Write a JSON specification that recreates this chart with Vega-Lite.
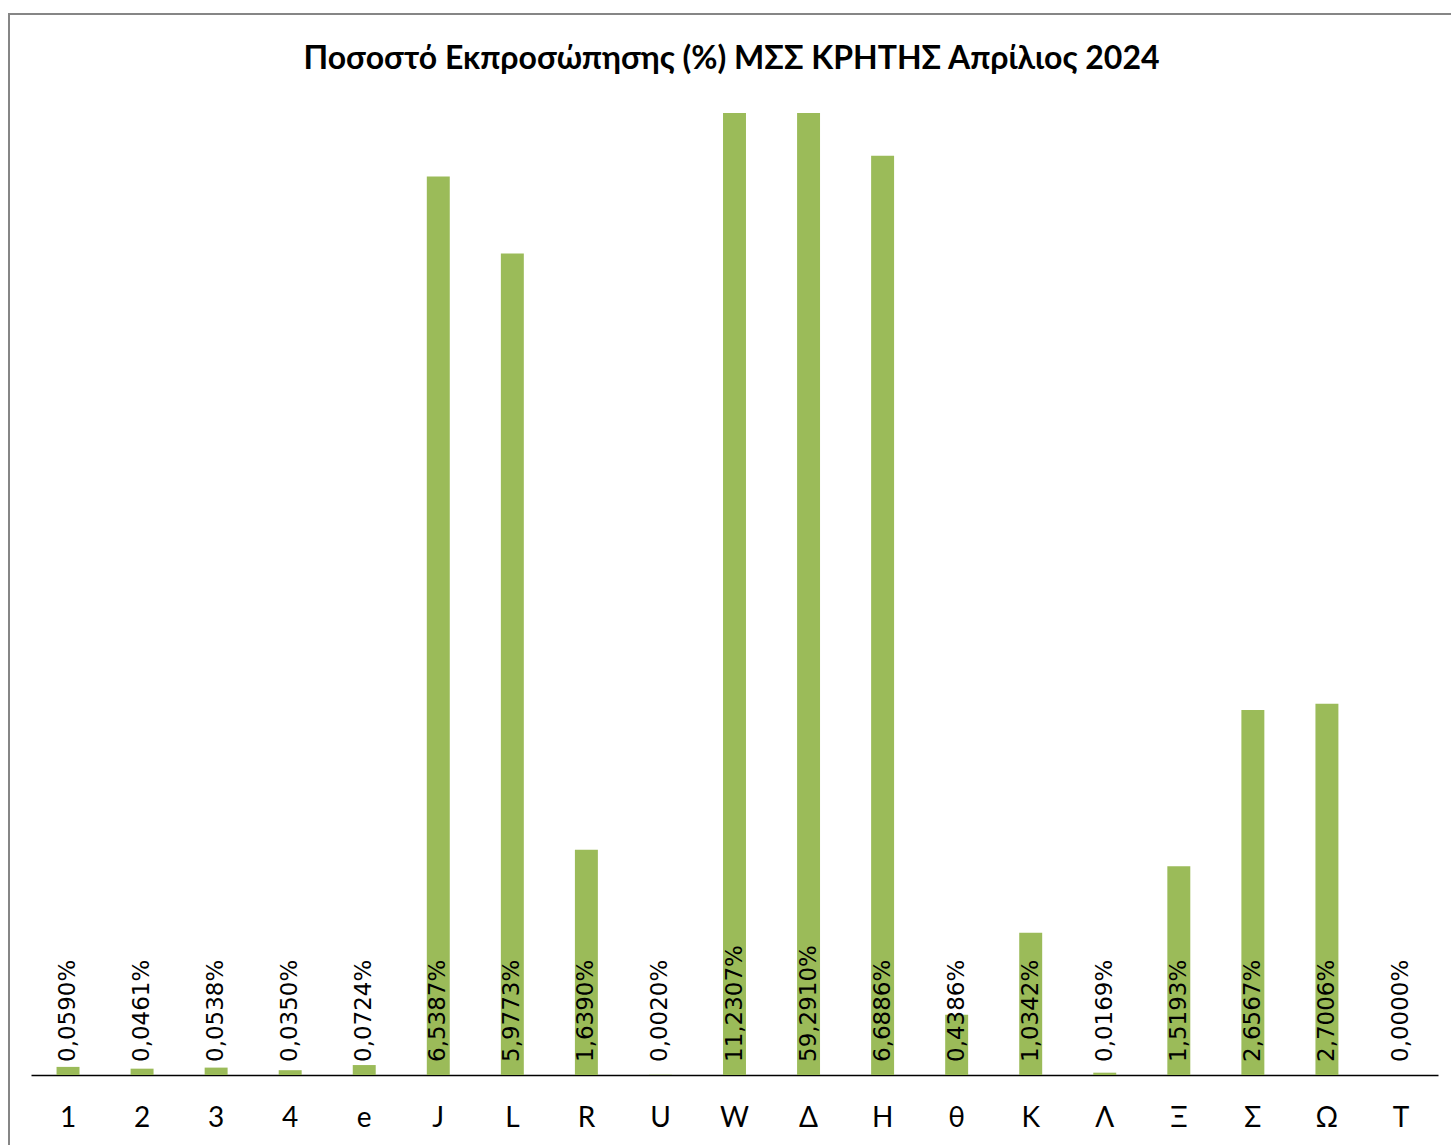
{
  "$schema": "https://vega.github.io/schema/vega-lite/v6.json",
  "autosize": {"type": "none"},
  "width": 1445,
  "height": 1134,
  "padding": {"left": 9, "top": 14, "right": -3, "bottom": -3},
  "background": "white",
  "title": {
    "text": "Ποσοστό Εκπροσώπησης (%) ΜΣΣ ΚΡΗΤΗΣ Απρίλιος 2024",
    "font": "Lato",
    "fontSize": 32,
    "fontWeight": "bold",
    "color": "black",
    "anchor": "middle",
    "frame": "group",
    "offset": -62
  },
  "config": {
    "view": {"stroke": "#868686", "strokeWidth": 2},
    "locale": {
      "number": {"decimal": ",", "thousands": ".", "grouping": [3], "currency": ["", " €"]}
    }
  },
  "data": {
    "values": [
      {"category": "1", "share": 0.000590},
      {"category": "2", "share": 0.000461},
      {"category": "3", "share": 0.000538},
      {"category": "4", "share": 0.000350},
      {"category": "e", "share": 0.000724},
      {"category": "J", "share": 0.065387},
      {"category": "L", "share": 0.059773},
      {"category": "R", "share": 0.016390},
      {"category": "U", "share": 0.000020},
      {"category": "W", "share": 0.112307},
      {"category": "Δ", "share": 0.592910},
      {"category": "Η", "share": 0.066886},
      {"category": "θ", "share": 0.004386},
      {"category": "Κ", "share": 0.010342},
      {"category": "Λ", "share": 0.000169},
      {"category": "Ξ", "share": 0.015193},
      {"category": "Σ", "share": 0.026567},
      {"category": "Ω", "share": 0.027006},
      {"category": "Τ", "share": 0.000000}
    ]
  },
  "encoding": {
    "x": {
      "field": "category",
      "type": "nominal",
      "sort": null,
      "scale": {"range": [22, 1429], "paddingInner": 0.69, "paddingOuter": 0.345},
      "axis": {
        "title": null,
        "orient": "bottom",
        "offset": -73,
        "domainColor": "black",
        "domainWidth": 1.5,
        "ticks": false,
        "tickSize": 0,
        "labelAngle": 0,
        "labelFont": "Lato",
        "labelFontSize": 28,
        "labelColor": "black",
        "labelPadding": 43,
        "labelBaseline": "middle"
      }
    }
  },
  "layer": [
    {
      "mark": {"type": "bar", "color": "#9BBB59"},
      "encoding": {
        "y": {
          "field": "share",
          "type": "quantitative",
          "scale": {"domain": [0, 0.07], "range": [1061, 99], "clamp": true, "nice": false},
          "axis": null
        }
      }
    },
    {
      "mark": {"type": "text", "angle": 270, "align": "left", "baseline": "middle", "yOffset": -13, "font": "DejaVu Sans", "fontSize": 23, "color": "black"},
      "encoding": {
        "y": {"datum": 0, "type": "quantitative"},
        "text": {"field": "share", "type": "quantitative", "format": ".4%"}
      }
    }
  ]
}
